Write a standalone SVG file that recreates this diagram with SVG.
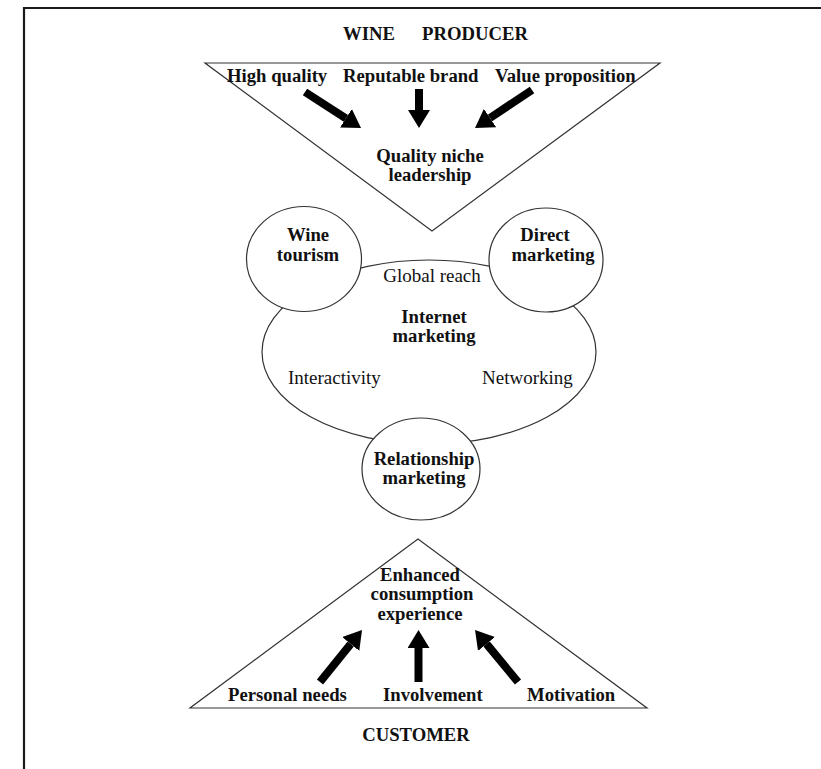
<svg xmlns="http://www.w3.org/2000/svg" width="821" height="769" viewBox="0 0 821 769">
<style>
  text { font-family: "Liberation Serif", "Times New Roman", serif; fill: #111; }
  .b { font-weight: bold; font-size: 18.7px; }
  .r { font-size: 19px; }
  .m { text-anchor: middle; }
  .shape { fill: #fff; stroke: #333; stroke-width: 1.2; }
  .arrow { stroke: #000; stroke-width: 8; fill: none; marker-end: url(#head); }
</style>
<defs>
  <marker id="head" markerUnits="userSpaceOnUse" markerWidth="18" markerHeight="22" viewBox="0 0 18 22" refX="0" refY="11" orient="auto">
    <path d="M0,0 L18,11 L0,22 z" fill="#000"/>
  </marker>
</defs>
<rect width="821" height="769" fill="#fff"/>
<path d="M24,769 L24,8 L821,8" fill="none" stroke="#1a1a1a" stroke-width="2.2"/>

<g id="producer">
  <text class="b" x="343" y="40">WINE <tspan x="422">PRODUCER</tspan></text>
  <polygon class="shape" points="205,63 660,63 432,231"/>
  <text class="b" x="227" y="82">High quality</text>
  <text class="b" x="343" y="82">Reputable brand</text>
  <text class="b" x="495" y="82">Value proposition</text>
  <text class="b m" x="430" y="162">Quality niche</text>
  <text class="b m" x="430" y="181">leadership</text>
</g>

<g id="internet-marketing">
  <ellipse class="shape" cx="429" cy="352" rx="167" ry="92"/>
  <text class="r m" x="432" y="282">Global reach</text>
  <text class="b m" x="434" y="322.5">Internet</text>
  <text class="b m" x="434" y="342">marketing</text>
  <text class="r" x="288" y="383.5">Interactivity</text>
  <text class="r" x="482" y="383.5">Networking</text>
</g>

<g id="wine-tourism">
  <ellipse class="shape" cx="304" cy="259" rx="57.5" ry="52.5"/>
  <text class="b m" x="308" y="241">Wine</text>
  <text class="b m" x="308" y="261">tourism</text>
</g>

<g id="direct-marketing">
  <ellipse class="shape" cx="546" cy="260" rx="57" ry="52"/>
  <text class="b m" x="545" y="241">Direct</text>
  <text class="b m" x="553" y="261">marketing</text>
</g>

<g id="relationship-marketing">
  <ellipse class="shape" cx="421" cy="469" rx="59" ry="51"/>
  <text class="b m" x="424" y="465">Relationship</text>
  <text class="b m" x="424" y="484">marketing</text>
</g>

<g id="customer">
  <polygon class="shape" points="418,539 190,708 647,708"/>
  <text class="b m" x="420" y="581">Enhanced</text>
  <text class="b m" x="422" y="600">consumption</text>
  <text class="b m" x="420" y="620">experience</text>
  <text class="b" x="228" y="701">Personal needs</text>
  <text class="b" x="383" y="701">Involvement</text>
  <text class="b" x="527" y="701">Motivation</text>
  <text class="b m" x="416" y="741">CUSTOMER</text>
</g>

<g id="connectors">
  <line class="arrow" x1="305" y1="92" x2="345.9" y2="118.3"/>
  <line class="arrow" x1="419" y1="89" x2="419" y2="110"/>
  <line class="arrow" x1="532" y1="90" x2="490" y2="118"/>
  <line class="arrow" x1="320" y1="682" x2="350.7" y2="644"/>
  <line class="arrow" x1="418.5" y1="682" x2="418.5" y2="648"/>
  <line class="arrow" x1="518" y1="682" x2="486.5" y2="643.9"/>
</g>
</svg>
